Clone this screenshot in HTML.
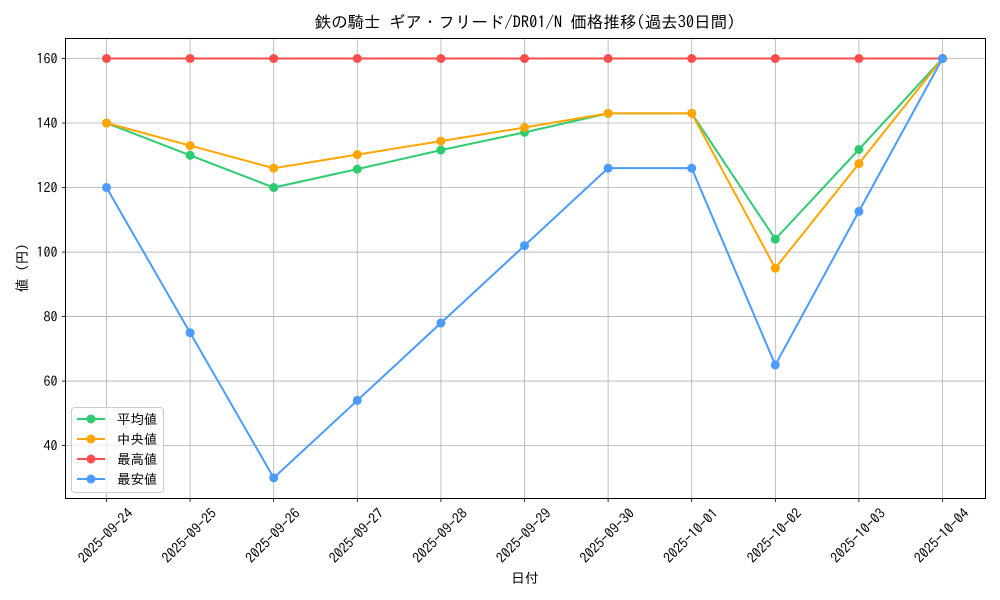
<!DOCTYPE html>
<html><head><meta charset="utf-8">
<style>
html,body{margin:0;padding:0;background:#fff;}
svg{display:block;font-family:"IPAGothic","Noto Sans CJK JP",sans-serif;}
</style></head>
<body>
<svg id="chart" width="1000" height="600"></svg>
<script>
const categories=["2025-09-24","2025-09-25","2025-09-26","2025-09-27","2025-09-28","2025-09-29","2025-09-30","2025-10-01","2025-10-02","2025-10-03","2025-10-04"];
const avgValues=[140,130,120,125.7,131.6,137.1,143,143,104,131.8,160];
const medianValues=[140,133,126,130.2,134.4,138.6,143,143,95,127.4,160];
const maxValues=[160,160,160,160,160,160,160,160,160,160,160];
const minValues=[120,75,30,54,78,102,126,126,65,112.6,160];
const yTicks=[40,60,80,100,120,140,160];
const seriesNames=["平均値","中央値","最高値","最安値"];
const seriesColors=["#2ecc71","#ffa500","#ff4c4c","#4c9bff"];

const NS="http://www.w3.org/2000/svg";
const svg=document.getElementById('chart');
const L=65.5,R=985.5,T=38.5,B=498.5;
const yMin=23.6,yMax=166.2;
function xPos(i){return 106.5+i*(942.5-106.5)/(categories.length-1);}
function yPos(v){return B-(v-yMin)/(yMax-yMin)*(B-T);}
function mk(tag,attrs,parent){const e=document.createElementNS(NS,tag);for(const k in attrs)e.setAttribute(k,attrs[k]);(parent||svg).appendChild(e);return e;}

const grid=mk('g',{});


categories.forEach((c,i)=>{mk('line',{x1:xPos(i),x2:xPos(i),y1:T,y2:B,stroke:'#b0b0b0','stroke-width':0.8},grid);});
yTicks.forEach(v=>{mk('line',{x1:L,x2:R,y1:yPos(v),y2:yPos(v),stroke:'#b0b0b0','stroke-width':0.8},grid);});

const allSeries=[avgValues,medianValues,maxValues,minValues];
[0,1,2,3].forEach(s=>{
  const g=mk('g',{});
  
  
  const vals=allSeries[s];
  const pts=vals.map((v,i)=>xPos(i)+','+yPos(v)).join(' ');
  mk('polyline',{points:pts,fill:'none',stroke:seriesColors[s],'stroke-width':2},g);
  vals.forEach((v,i)=>{
    const c=mk('circle',{cx:xPos(i),cy:yPos(v),r:4.5,fill:seriesColors[s]},g);
    
    
  });
});

const frame=mk('rect',{x:L,y:T,width:R-L,height:B-T,fill:'none',stroke:'#000','stroke-width':1});



const yAxis=mk('g',{});


yTicks.forEach(v=>{
  mk('line',{x1:L-3.5,x2:L,y1:yPos(v),y2:yPos(v),stroke:'#000','stroke-width':0.8},yAxis);
  const t=mk('text',{x:L-8,y:yPos(v)+5,'text-anchor':'end','font-size':14,fill:'#000'},yAxis);
  t.textContent=v;
  
  
});
const xAxis=mk('g',{});


categories.forEach((c,i)=>{
  const x=xPos(i);
  mk('line',{x1:x,x2:x,y1:B,y2:B+3.5,stroke:'#000','stroke-width':0.8},xAxis);
  const cx=x-1, cy=B+37;
  const t=mk('text',{x:cx,y:cy+5,'text-anchor':'middle','font-size':14,fill:'#000',transform:`rotate(-45 ${cx} ${cy})`},xAxis);
  t.textContent=c;
  
  
});

const title=mk('text',{x:525,y:28,'text-anchor':'middle','font-size':16.5,fill:'#000'});
title.textContent='鉄の騎士 ギア・フリード/DR01/N 価格推移(過去30日間)';


const xt=mk('text',{x:525,y:583,'text-anchor':'middle','font-size':14,fill:'#000'});
xt.textContent='日付';


const yt=mk('text',{x:27,y:268,'text-anchor':'middle','font-size':14,fill:'#000',transform:'rotate(-90 27 268)'});
yt.textContent='値 (円)';



const lg=mk('g',{});


mk('rect',{x:71.5,y:407.5,width:92,height:85,rx:3,fill:'#fff','fill-opacity':0.8,stroke:'#ccc','stroke-width':1},lg);
seriesNames.forEach((n,k)=>{
  const y=419+k*20;
  const e=mk('g',{},lg);
  
  
  mk('line',{x1:77,x2:105,y1:y,y2:y,stroke:seriesColors[k],'stroke-width':2},e);
  mk('circle',{cx:91,cy:y,r:4.5,fill:seriesColors[k]},e);
  const t=mk('text',{x:117,y:y+5,'font-size':13.5,fill:'#000'},e);
  t.textContent=n;
});
</script>
</body></html>
